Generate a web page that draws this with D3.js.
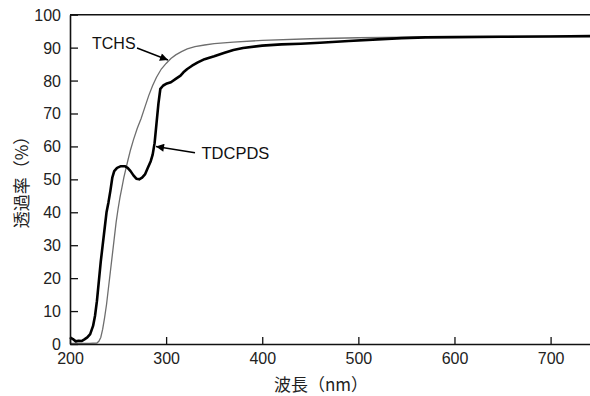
<!DOCTYPE html>
<html><head><meta charset="utf-8">
<script src="https://cdn.jsdelivr.net/npm/d3@7"></script>
<style>body{margin:0;background:#fff}svg{display:block}</style>
</head><body>
<svg id="c" width="590" height="396"></svg>
<script>
const xTicks = [200, 300, 400, 500, 600, 700];
const yTicks = [0, 10, 20, 30, 40, 50, 60, 70, 80, 90, 100];

const tdcpdsNm = [200,203,206,209,212,215,218,221,224,226,228,230,232,234,236,238,240,242,244,246,249,253,257,260,263,266,269,272,275,278,281,284,286,288,290,292,294,297,300,305,310,315,318,322,327,333,340,350,360,370,380,400,420,440,460,490,520,545,570,600,650,700,741];
const tdcpdsT  = [2.0,1.5,0.8,1.0,0.9,1.4,2.0,3.0,5.5,8.5,13,19,25,30,35,40,43,46.5,50.5,52.5,53.5,54.0,54.0,53.5,52.5,51.2,50.2,50.0,50.5,51.5,53.5,55.5,57.5,61,67,73,77.5,78.5,79,79.5,80.5,81.5,82.5,83.5,84.5,85.5,86.5,87.4,88.4,89.3,89.9,90.6,91.0,91.2,91.5,92.0,92.5,92.9,93.1,93.2,93.3,93.4,93.5];

const tchsNm = [200,210,220,228,230,232,234,236,238,240,242,244,246,248,250,252,254,256,258,260,263,266,270,274,278,282,286,290,295,300,305,310,316,322,330,340,350,370,400,450,500,550,600,650,700,741];
const tchsT  = [0.2,0.2,0.2,0.3,0.8,2,4.5,8,12,17,22,27,32,37,41,44.5,47.5,50.5,53,55.5,59,62,65.5,68.5,72,75.5,78.5,81,83.5,85.2,86.7,87.8,88.8,89.6,90.3,90.8,91.2,91.7,92.2,92.7,93.0,93.2,93.3,93.4,93.5,93.6];

const svg = d3.select("#c");
const L = 70, R = 590, T = 14.7, B = 344;
const x = d3.scaleLinear().domain([200, 741]).range([L, R]);
const y = d3.scaleLinear().domain([0, 100]).range([B, T]);
const font = "'Liberation Sans', Arial, Helvetica, sans-serif";

const line = d3.line().x(d => x(d[0])).y(d => y(d[1]));
const gray = tchsNm.map((n, i) => [n, tchsT[i]]);
const black = tdcpdsNm.map((n, i) => [n, tdcpdsT[i]]);

svg.append("path").attr("d", line(gray)).attr("fill", "none").attr("stroke", "#6e6e6e").attr("stroke-width", 1.3);
svg.append("path").attr("d", line(black)).attr("fill", "none").attr("stroke", "#000").attr("stroke-width", 2.6).attr("stroke-linejoin", "round");

// axes
const yAxis = d3.axisLeft(y).tickValues(yTicks).tickSize(-8).tickPadding(9).tickSizeOuter(0);
const gy = svg.append("g").attr("transform", `translate(${L},0)`).call(yAxis);
const xAxis = d3.axisBottom(x).tickValues(xTicks).tickSize(-7).tickPadding(9).tickSizeOuter(0);
const gx = svg.append("g").attr("transform", `translate(0,${B})`).call(xAxis);
[gx, gy].forEach(g => {
  g.selectAll("path.domain").attr("stroke", "#111").attr("stroke-width", 1.6);
  g.selectAll(".tick line").attr("stroke", "#111").attr("stroke-width", 1.3);
  g.selectAll("text").attr("font-family", font).attr("font-size", 16).attr("fill", "#222");
});
gy.selectAll("text").attr("dy", "0.34em");
// top border
svg.append("line").attr("x1", L).attr("x2", R).attr("y1", y(100)).attr("y2", y(100)).attr("stroke", "#111").attr("stroke-width", 1.6);

// axis titles
svg.append("text").attr("x", 321).attr("y", 391).attr("text-anchor", "middle")
  .attr("font-family", "'Noto Sans CJK JP', sans-serif").attr("font-size", 17).attr("fill", "#222").text("波長（nm）");
svg.append("text").attr("transform", "translate(28,178) rotate(-90)").attr("text-anchor", "middle")
  .attr("font-family", "'Noto Sans CJK JP', sans-serif").attr("font-size", 17).attr("fill", "#222").text("透過率（%）");

// arrows
const defs = svg.append("defs");
defs.append("marker").attr("id", "ah").attr("viewBox", "0 0 10 10").attr("refX", 10).attr("refY", 5)
  .attr("markerWidth", 11).attr("markerHeight", 8).attr("markerUnits", "userSpaceOnUse").attr("orient", "auto")
  .append("path").attr("d", "M0,0 L10,5 L0,10 Z").attr("fill", "#000");

svg.append("text").attr("x", 92).attr("y", 49).attr("font-family", font).attr("font-size", 16).attr("fill", "#111").text("TCHS");
svg.append("line").attr("x1", 137).attr("y1", 48).attr("x2", 168).attr("y2", 60)
  .attr("stroke", "#000").attr("stroke-width", 1.4).attr("marker-end", "url(#ah)");

svg.append("text").attr("x", 201.5).attr("y", 159.3).attr("font-family", font).attr("font-size", 16.5).attr("fill", "#111").text("TDCPDS");
svg.append("line").attr("x1", 195).attr("y1", 152.7).attr("x2", 156).attr("y2", 146.5)
  .attr("stroke", "#000").attr("stroke-width", 1.4).attr("marker-end", "url(#ah)");
</script>
</body></html>
